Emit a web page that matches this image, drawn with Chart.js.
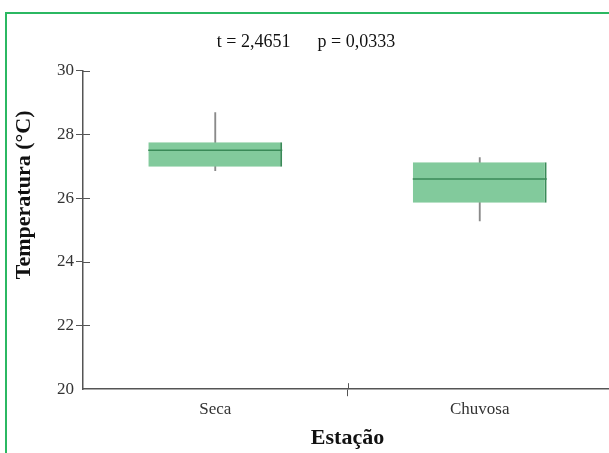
<!DOCTYPE html>
<html>
<head>
<meta charset="utf-8">
<script src="https://cdn.jsdelivr.net/npm/chart.js@4.4.1/dist/chart.umd.min.js"></script>
<style>
    body { margin: 0; overflow: hidden; background: #fff; }
    #wrap { position: absolute; left: 0; top: 0; width: 612px; height: 453px; }
    #frame { position: absolute; left: 5px; top: 12px; width: 700px; height: 500px;
             border-top: 2px solid #2bb862; border-left: 2px solid #2bb862; }
</style>
</head>
<body>
<div id="frame"></div>
<div id="wrap"><canvas id="chart"></canvas></div>
<script>
// box plot values
const categories = ['Seca', 'Chuvosa'];
const minValues = [26.86, 25.28];
const q1Values = [26.98, 25.85];
const medianValues = [27.5, 26.6];
const q3Values = [27.75, 27.12];
const maxValues = [28.68, 27.27];
const yTicks = [20, 22, 24, 26, 28, 30];
const statText = 't = 2,4651      p = 0,0333';
const yTitle = 'Temperatura (°C)';

const serif = "'Liberation Serif', 'Times New Roman', serif";

// ticks that cross the axes + the y title, which sits above the axis middle in the reference
const extras = {
    id: 'extras',
    afterDatasetsDraw(chart) {
        const ctx = chart.ctx;
        const x = chart.scales.x, y = chart.scales.y;
        ctx.save();
        ctx.strokeStyle = '#555';
        ctx.lineWidth = 1;
        ctx.beginPath();
        yTicks.forEach(v => {
            if (v === 20) return;
            const py = Math.round(y.getPixelForValue(v)) + 0.5;
            ctx.moveTo(x.left, py);
            ctx.lineTo(x.left + 7, py);
        });
        const px = Math.round(x.getPixelForValue(0.5)) + 0.5;
        ctx.moveTo(px, y.bottom);
        ctx.lineTo(px, y.bottom - 6);
        ctx.stroke();

        ctx.translate(24, y.getPixelForValue(26.1));
        ctx.rotate(-Math.PI / 2);
        ctx.fillStyle = '#111';
        ctx.font = 'bold 22px ' + serif;
        ctx.textAlign = 'center';
        ctx.textBaseline = 'middle';
        ctx.fillText(yTitle, 0, 0);
        ctx.restore();
    }
};

new Chart(document.getElementById('chart'), {
    type: 'bar',
    data: {
        labels: categories,
        datasets: [
            {
                label: 'median',
                type: 'line',
                data: medianValues,
                showLine: false,
                clip: false,
                pointStyle: 'line',
                pointRadius: 67,
                pointHoverRadius: 67,
                pointBorderColor: '#3a8a58',
                pointBorderWidth: 1.5,
                order: 1
            },
            {
                label: 'box',
                data: q1Values.map((q, i) => [q, q3Values[i]]),
                backgroundColor: '#82ca9c',
                borderColor: '#3a8a58',
                borderWidth: { left: 0, right: 2, top: 0, bottom: 0 },
                borderSkipped: false,
                barPercentage: 0.506,
                categoryPercentage: 1,
                grouped: false,
                order: 2
            },
            {
                label: 'whisker',
                data: minValues.map((m, i) => [m, maxValues[i]]),
                backgroundColor: '#8a8a8a',
                barThickness: 1.2,
                grouped: false,
                order: 3
            }
        ]
    },
    options: {
        responsive: true,
        maintainAspectRatio: false,
        animation: false,
        layout: { autoPadding: false, padding: { left: 0, right: 0, top: 0, bottom: 1 } },
        plugins: {
            legend: { display: false },
            tooltip: { enabled: false },
            title: {
                display: true,
                text: statText,
                color: '#111',
                font: { family: serif, size: 18, weight: 'normal' },
                padding: { top: 31, bottom: 18 }
            }
        },
        scales: {
            x: {
                border: { color: '#555', width: 1.5 },
                grid: {
                    offset: true,
                    drawOnChartArea: false,
                    tickLength: 7,
                    color: c => c.index === 1 ? '#555' : 'rgba(0,0,0,0)'
                },
                ticks: { color: '#333', font: { family: serif, size: 17 }, padding: 3 },
                title: {
                    display: true,
                    text: 'Estação',
                    color: '#111',
                    font: { family: serif, size: 22, weight: 'bold' },
                    padding: { top: 3, bottom: 0 }
                }
            },
            y: {
                min: 20,
                max: 30,
                afterBuildTicks: s => { s.ticks = yTicks.map(v => ({ value: v })); },
                afterFit: s => { s.width = 83; },
                border: { color: '#555', width: 1.5 },
                grid: {
                    drawOnChartArea: false,
                    tickLength: 7,
                    color: c => c.tick && c.tick.value === 20 ? 'rgba(0,0,0,0)' : '#555'
                },
                ticks: { color: '#333', font: { family: serif, size: 17 }, padding: 2 }
            }
        }
    },
    plugins: [extras]
});
</script>
</body>
</html>
